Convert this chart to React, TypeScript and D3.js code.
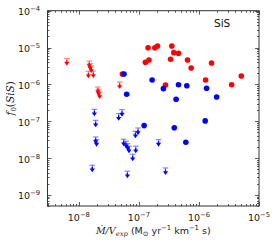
import React, { useEffect, useRef } from "react";
import * as d3 from "d3";

// detections (filled circles)
const redDetX = [5.3e-8, 1.28e-7, 1.47e-7, 1.42e-7, 1.84e-7, 2.04e-7, 3.53e-7, 3.81e-7, 4.56e-7, 3.36e-7, 6.45e-7, 7.41e-7, 2.77e-7, 1.29e-6, 1.62e-6, 3.5e-6, 5.07e-6];
const redDetY = [1.92e-6, 3.98e-6, 4.6e-6, 9.9e-6, 9.9e-6, 1.1e-5, 1.1e-5, 7.26e-6, 6.99e-6, 4.8e-6, 4.6e-6, 2.79e-6, 9.6e-7, 1.32e-6, 3.81e-6, 9.8e-7, 1.69e-6];
const blueDetX = [5.64e-8, 6.25e-8, 1.66e-7, 2.56e-7, 4.56e-7, 6.28e-7, 4.16e-7, 1.34e-6, 1.97e-6, 1.22e-7, 3.88e-7, 1.27e-6, 6.04e-7];
const blueDetY = [1.92e-6, 5.4e-7, 1.32e-6, 7.66e-7, 9.8e-7, 9.2e-7, 3.95e-7, 7.85e-7, 4.56e-7, 7.6e-8, 6.66e-8, 1.02e-7, 2.69e-8];

// upper limits (arrows)
const redLimX = [6.3e-9, 1.49e-8, 1.55e-8, 1.61e-8, 1.44e-8, 1.74e-8, 2.07e-8, 2.13e-8, 2.22e-8, 4.78e-8];
const redLimY = [5e-6, 4.3e-6, 3.65e-6, 3.16e-6, 2.27e-6, 2.3e-6, 8.5e-7, 7.4e-7, 6.2e-7, 1.16e-6];
const blueLimX = [1.81e-8, 1.9e-8, 1.9e-8, 1.97e-8, 1.67e-8, 4.6e-8, 5.22e-8, 5.57e-8, 6.09e-8, 6.5e-8, 6.84e-8, 8.85e-8, 7.87e-8, 8.74e-8, 9.66e-8, 6.43e-8, 2.12e-7, 2.77e-7];
const blueLimY = [2.1e-7, 1.06e-7, 3.74e-8, 3.16e-8, 6.4e-9, 1.6e-7, 2.06e-7, 3.24e-8, 2.86e-8, 2.46e-8, 2.1e-8, 2.1e-8, 1.27e-8, 5.35e-8, 6.57e-8, 4.4e-9, 3.16e-8, 5.4e-9];

const xTickExps = [-8, -7, -6, -5];
const yTickExps = [-9, -8, -7, -6, -5, -4];

const W = 274;
const H = 244;
const left = 47.5, right = 259, top = 10.7, bottom = 206;
const frameColor = "#333";
const font = "DejaVu Sans";

const App = () => {
  const svgRef = useRef<SVGSVGElement>(null);

  useEffect(() => {
    const svg = d3.select(svgRef.current);
    svg.selectAll("*").remove();

    const x = d3.scaleLog().domain([3e-9, 1e-5]).range([left, right]);
    const y = d3.scaleLog().domain([5e-10, 1e-4]).range([bottom, top]);

    // ticks, inward on all four sides
    const g = svg.append("g").attr("stroke", frameColor).attr("stroke-width", 0.8);
    x.ticks().forEach((t) => {
      const px = Math.round(x(t)) + 0.5;
      const major = Math.abs(Math.log10(t) - Math.round(Math.log10(t))) < 1e-6;
      const len = major ? 4 : 2;
      g.append("line").attr("x1", px).attr("x2", px).attr("y1", bottom).attr("y2", bottom - len);
      g.append("line").attr("x1", px).attr("x2", px).attr("y1", top).attr("y2", top + len);
    });
    y.ticks().forEach((t) => {
      const py = Math.round(y(t)) + 0.5;
      const major = Math.abs(Math.log10(t) - Math.round(Math.log10(t))) < 1e-6;
      const len = major ? 4 : 2;
      g.append("line").attr("y1", py).attr("y2", py).attr("x1", left).attr("x2", left + len);
      g.append("line").attr("y1", py).attr("y2", py).attr("x1", right).attr("x2", right - len);
    });

    // frame
    svg.append("rect")
      .attr("x", left).attr("y", top)
      .attr("width", right - left).attr("height", bottom - top)
      .attr("fill", "none").attr("stroke", frameColor).attr("stroke-width", 1);

    // x tick labels
    xTickExps.forEach((e) => {
      const t = svg.append("text")
        .attr("x", x(Math.pow(10, e)))
        .attr("y", 220.5)
        .attr("text-anchor", "middle")
        .attr("font-family", font)
        .attr("font-size", 9.5)
        .attr("fill", "#222");
      t.append("tspan").text("10");
      t.append("tspan").attr("dy", -4).attr("font-size", 6.8).text("\u2212" + Math.abs(e));
    });

    // y tick labels
    yTickExps.forEach((e) => {
      const t = svg.append("text")
        .attr("x", 40)
        .attr("y", y(Math.pow(10, e)) + 4.5)
        .attr("text-anchor", "end")
        .attr("font-family", font)
        .attr("font-size", 9.5)
        .attr("fill", "#222");
      t.append("tspan").text("10");
      t.append("tspan").attr("dy", -4).attr("font-size", 6.8).text("\u2212" + Math.abs(e));
    });

    // upper limit arrows
    const drawLimits = (xs: number[], ys: number[], color: string) => {
      xs.forEach((xv, i) => {
        const cx = x(xv);
        const cy = y(ys[i]);
        const a = svg.append("g");
        a.append("line").attr("x1", cx - 2.8).attr("x2", cx + 2.8).attr("y1", cy).attr("y2", cy)
          .attr("stroke", color).attr("stroke-opacity", 0.5).attr("stroke-width", 1.1);
        a.append("line").attr("x1", cx).attr("x2", cx).attr("y1", cy).attr("y2", cy + 3)
          .attr("stroke", color).attr("stroke-opacity", 0.5).attr("stroke-width", 1.1);
        a.append("line").attr("x1", cx).attr("x2", cx).attr("y1", cy + 1.5).attr("y2", cy + 4)
          .attr("stroke", color).attr("stroke-width", 1.3);
        a.append("path")
          .attr("d", `M${cx - 2.6},${cy + 3.2}L${cx + 2.6},${cy + 3.2}L${cx},${cy + 7}Z`)
          .attr("fill", color);
      });
    };
    drawLimits(redLimX, redLimY, "#ff0000");
    drawLimits(blueLimX, blueLimY, "#0000ff");

    // detections
    const drawDet = (xs: number[], ys: number[], color: string) => {
      svg.append("g").selectAll("circle")
        .data(xs.map((xv, i) => [xv, ys[i]]))
        .join("circle")
        .attr("cx", (d) => x(d[0]))
        .attr("cy", (d) => y(d[1]))
        .attr("r", 2.8)
        .attr("fill", color);
    };
    drawDet(redDetX, redDetY, "#ff0000");
    drawDet(blueDetX, blueDetY, "#0000ff");

    // SiS label
    svg.append("text").attr("x", 214).attr("y", 27)
      .attr("font-family", font).attr("font-size", 10.5).attr("fill", "#111").text("SiS");

    // x axis label
    const xl = svg.append("text")
      .attr("x", (left + right) / 2).attr("y", 234)
      .attr("text-anchor", "middle")
      .attr("font-family", font).attr("font-size", 9.5).attr("fill", "#222");
    xl.append("tspan").attr("font-family", "DejaVu Serif").attr("font-style", "italic").text("M\u0307/V");
    xl.append("tspan").attr("font-family", "DejaVu Serif").attr("font-style", "italic")
      .attr("font-size", 6.8).attr("dy", 2).text("exp");
    xl.append("tspan").attr("dy", -2).text(" (M");
    xl.append("tspan").attr("font-size", 6.8).attr("dy", 2).text("\u2299");
    xl.append("tspan").attr("dy", -2).text(" yr");
    xl.append("tspan").attr("font-size", 6.8).attr("dy", -4).text("\u22121");
    xl.append("tspan").attr("dy", 4).text(" km");
    xl.append("tspan").attr("font-size", 6.8).attr("dy", -4).text("\u22121");
    xl.append("tspan").attr("dy", 4).text(" s)");

    // y axis label
    const yl = svg.append("text")
      .attr("transform", `translate(14,${(top + bottom) / 2 - 10}) rotate(-90)`)
      .attr("text-anchor", "middle")
      .attr("font-family", "DejaVu Serif").attr("font-size", 10.5).attr("fill", "#222");
    yl.append("tspan").attr("font-style", "italic").text("f");
    yl.append("tspan").attr("font-size", 7).attr("dy", 2).text("0");
    yl.append("tspan").attr("dy", -2).text("(");
    yl.append("tspan").attr("font-style", "italic").text("SiS");
    yl.append("tspan").text(")");
  }, []);

  return (
    <svg
      ref={svgRef}
      width={W}
      height={H}
      style={{ position: "absolute", left: 0, top: 0, background: "#fff" }}
    />
  );
};

export default App;
